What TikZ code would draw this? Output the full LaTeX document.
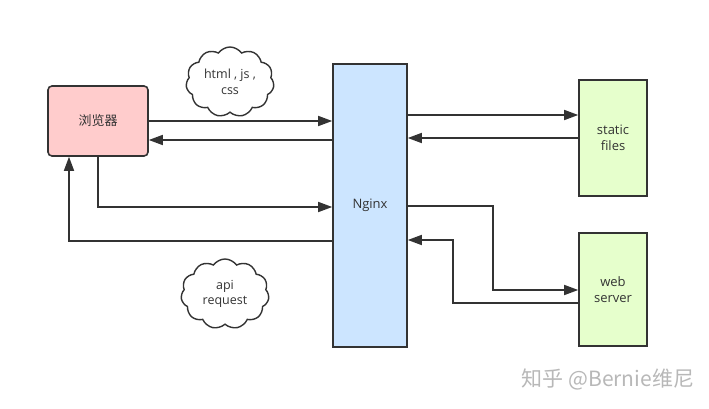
\documentclass[tikz,border=0pt]{standalone}
\usepackage{fontspec}
\setmainfont{Open Sans}
\newfontfamily\cjk{Noto Sans CJK SC}
\usetikzlibrary{shapes.symbols,arrows.meta}
\definecolor{edge}{HTML}{333333}
\definecolor{pinkfill}{HTML}{FFCCCC}
\definecolor{bluefill}{HTML}{CCE5FF}
\definecolor{greenfill}{HTML}{E6FFCC}
\tikzset{
  box/.style={draw=edge, line width=1.6pt, inner sep=0pt, font=\fontsize{13}{16}\selectfont, align=center, text=edge},
  conn/.style={draw=edge, line width=1.6pt, -{Triangle[length=14pt,width=10pt]}},
  cloudy/.style={cloud, cloud puffs=11, cloud puff arc=110, aspect=1.2, draw=edge, line width=1.4pt, fill=white, minimum width=88pt, minimum height=70pt, inner sep=0pt, align=center, font=\fontsize{12.5}{15.5}\selectfont, text=edge}
}
\begin{document}
\begin{tikzpicture}[x=1pt,y=-1pt]
\useasboundingbox[fill=white] (0,0) rectangle (709,409);
\node[box, fill=pinkfill, rounded corners=4pt, minimum width=100pt, minimum height=70pt] (br) at (98,121) {\cjk 浏览器};
\node[box, fill=bluefill, minimum width=74pt, minimum height=283pt] (ng) at (370,205.5) {Nginx};
\node[box, fill=greenfill, minimum width=68pt, minimum height=116pt] (sf) at (613,138) {static\\files};
\node[box, fill=greenfill, minimum width=68pt, minimum height=113pt] (ws) at (613,289.5) {web\\server};
\node[cloudy] (c1) at (230,82) {html , js ,\\css};
\node[cloudy] (c2) at (225,294) {api\\request};
% browser <-> nginx
\draw[conn] (br.east |- 0,121) -- (ng.west |- 0,121);
\draw[conn] (ng.west |- 0,140) -- (br.east |- 0,140);
\draw[conn] (br.south -| 98,0) |- (ng.west |- 0,207);
\draw[conn] (ng.west |- 0,241) -| (br.south -| 69,0);
% nginx <-> static
\draw[conn] (ng.east |- 0,115) -- (sf.west |- 0,115);
\draw[conn] (sf.west |- 0,138) -- (ng.east |- 0,138);
% nginx <-> web server
\coordinate (k1) at (493,206);
\coordinate (k2) at (453,303);
\draw[conn] (ng.east |- 0,206) -- (k1) |- (ws.west |- 0,290);
\draw[conn] (ws.west |- 0,303) -- (k2) |- (ng.east |- 0,240);
\node[font=\cjk\fontsize{21}{24}\selectfont, text=black!28] (wm) at (608,379) {知乎 @Bernie维尼};
\end{tikzpicture}
\end{document}
